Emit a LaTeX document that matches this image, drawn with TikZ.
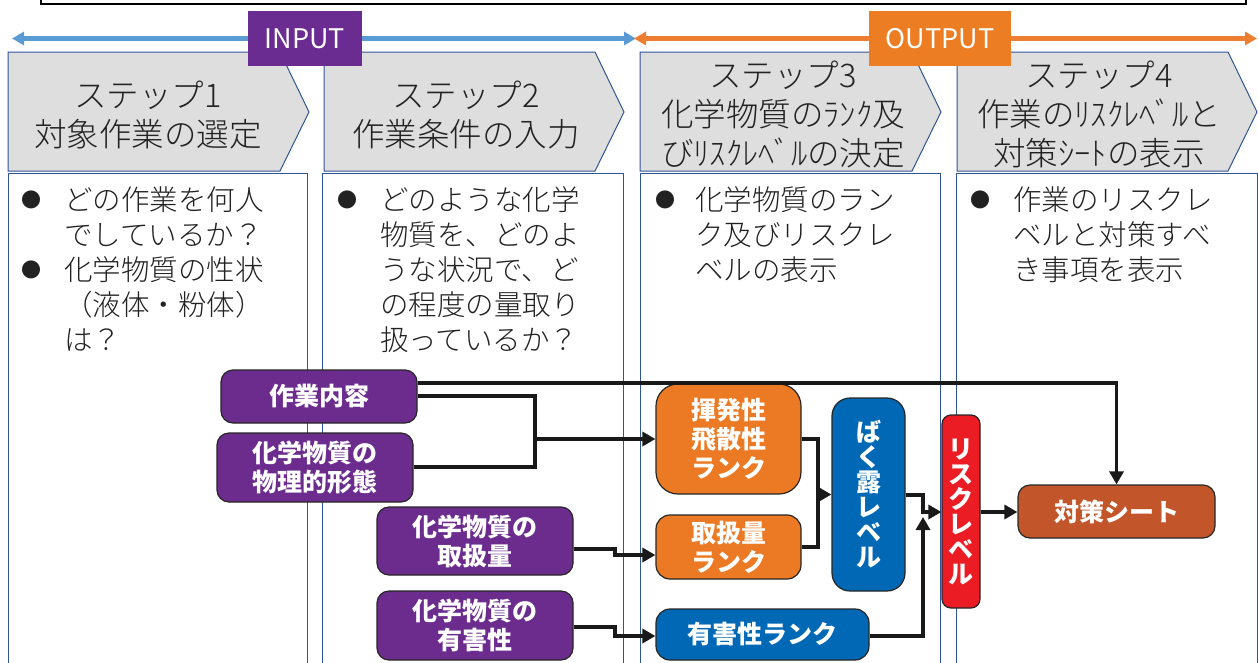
\documentclass[tikz,border=0pt]{standalone}
\usepackage{fontspec}
\setmainfont{Noto Sans CJK JP}
\IfFontExistsTF{Noto Sans CJK JP Light}{\newfontfamily\lightjp{Noto Sans CJK JP Light}}{\newfontfamily\lightjp{Noto Sans CJK JP}}
\usetikzlibrary{arrows.meta}
\definecolor{cpurple}{HTML}{6B2C8E}
\definecolor{corange}{HTML}{EC7A24}
\definecolor{cblue}{HTML}{0068B4}
\definecolor{cred}{HTML}{EC1C24}
\definecolor{cbrown}{HTML}{C2552A}
\definecolor{cinput}{HTML}{6B2C91}
\definecolor{coutput}{HTML}{ED7D22}
\definecolor{carrowblue}{HTML}{5B9BD5}
\definecolor{carroworange}{HTML}{ED7D31}
\definecolor{cgray}{HTML}{DEDEDE}
\definecolor{cborder}{HTML}{2F5597}
\definecolor{ctext}{HTML}{222222}
\tikzset{
  flownode/.style={draw=black!85, line width=1.2pt, rounded corners=12pt, text=white,
    font=\bfseries\fontsize{25}{29}\selectfont, align=center, inner sep=0pt},
  purplenode/.style={flownode, fill=cpurple, minimum width=196pt},
  orangenode/.style={flownode, fill=corange, minimum width=145pt},
  bluenode/.style={flownode, fill=cblue},
  rednode/.style={flownode, fill=cred, rounded corners=9pt},
  brownnode/.style={flownode, fill=cbrown},
  flow/.style={line width=3.5pt, draw=black!90},
  flowarrow/.style={flow, -{Triangle[length=13pt,width=14pt]}},
  stepshape/.style={fill=cgray, draw=cborder, line width=1pt},
  stepbox/.style={draw=cborder, line width=1pt, fill=white},
  steptitle/.style={font=\lightjp\fontsize{32.5}{39}\selectfont, align=center, text=ctext, inner sep=0pt},
  bodytext/.style={font=\lightjp\fontsize{28.5}{35}\selectfont, align=left, anchor=north west, inner sep=0pt, text=ctext},
  bulletmark/.style={font=\fontsize{20}{20}\selectfont, text=ctext, inner sep=0pt},
  tagbox/.style={text=white, font=\fontsize{27}{27}\selectfont, inner sep=0pt, minimum height=55pt},
  twotips/.style={{Triangle[length=12pt,width=13pt]}-{Triangle[length=12pt,width=13pt]}},
}
\begin{document}
\begin{tikzpicture}[x=1pt,y=-1pt]
\useasboundingbox (0,0) rectangle (1258,662);
\clip (0,0) rectangle (1258,662);

% top frame
\draw[line width=1.3pt, fill=white] (41,-10) rectangle (1246,4);

% top arrows
\coordinate (ia) at (12,38.5);
\coordinate (ib) at (636,38.5);
\coordinate (oa) at (634,38.5);
\coordinate (ob) at (1257,38.5);
\draw[twotips, draw=carrowblue, fill=carrowblue, line width=4.5pt] (ia) -- (ib);
\draw[twotips, draw=carroworange, fill=carroworange, line width=4.5pt] (oa) -- (ob);

% content boxes
\draw[stepbox] (8,173) rectangle (307,680);
\draw[stepbox] (322,173) rectangle (623,680);
\draw[stepbox] (640,173) rectangle (940,680);
\draw[stepbox] (956,173) rectangle (1257,680);

% chevrons
\draw[stepshape] (8,52) -- (280,52) -- (309,112) -- (280,171) -- (8,171) -- cycle;
\draw[stepshape] (324,52) -- (595,52) -- (624,112) -- (595,171) -- (324,171) -- cycle;
\draw[stepshape] (640,52) -- (912,52) -- (941,112) -- (912,171) -- (640,171) -- cycle;
\draw[stepshape] (957,52) -- (1228,52) -- (1257,112) -- (1228,171) -- (957,171) -- cycle;

\node[steptitle] (s1) at (148,115) {ステップ1\\対象作業の選定};
\node[steptitle] (s2) at (466,115) {ステップ2\\作業条件の入力};
\node[steptitle] (s3) at (783,114) {ステップ3\\化学物質のﾗﾝｸ及\\びﾘｽｸﾚﾍﾞﾙの決定};
\node[steptitle] (s4) at (1099,114) {ステップ4\\作業のﾘｽｸﾚﾍﾞﾙと\\対策ｼｰﾄの表示};

% tags
\node[tagbox, fill=cinput, minimum width=114pt] (input) at (305,38.5) {INPUT};
\node[tagbox, fill=coutput, minimum width=142pt] (output) at (940,38.5) {OUTPUT};

% bullets
\node[bulletmark] (b1a) at (31,200) {●};
\node[bulletmark] (b1b) at (31,270) {●};
\node[bodytext] (t1) at (64,186) {どの作業を何人\\でしているか？\\化学物質の性状\\（液体・粉体）\\は？};
\node[bulletmark] (b2a) at (347,200) {●};
\node[bodytext] (t2) at (380,186) {どのような化学\\物質を、どのよ\\うな状況で、ど\\の程度の量取り\\扱っているか？};
\node[bulletmark] (b3a) at (665,200) {●};
\node[bodytext] (t3) at (695,186) {化学物質のラン\\ク及びリスクレ\\ベルの表示};
\node[bulletmark] (b4a) at (980,200) {●};
\node[bodytext] (t4) at (1013,186) {作業のリスクレ\\ベルと対策すべ\\き事項を表示};

% flow nodes
\node[purplenode, minimum height=53pt] (sagyo) at (319,396.5) {作業内容};
\node[purplenode, minimum height=69pt] (keitai) at (315,467.5) {化学物質の\\物理的形態};
\node[purplenode, minimum height=68pt] (ryo) at (475,541) {化学物質の\\取扱量};
\node[purplenode, minimum height=69pt] (gai) at (475,625.5) {化学物質の\\有害性};
\node[orangenode, minimum height=110pt, rounded corners=22pt] (kihatsu) at (728.5,439) {揮発性\\飛散性\\ランク};
\node[orangenode, minimum height=64pt, rounded corners=14pt] (ryoR) at (728.5,547) {取扱量\\ランク};
\node[bluenode, minimum width=213pt, minimum height=51pt, rounded corners=14pt] (gaiR) at (762.5,634.5) {有害性ランク};
\node[bluenode, minimum width=73pt, minimum height=193pt, rounded corners=18pt, font=\bfseries\fontsize{25}{25}\selectfont] (bakuro) at (868.5,494.5) {ば\\く\\露\\レ\\ベ\\ル};
\node[rednode, minimum width=38pt, minimum height=193pt, font=\bfseries\fontsize{25}{25}\selectfont] (risk) at (961,511.5) {リ\\ス\\ク\\レ\\ベ\\ル};
\node[brownnode, minimum width=197pt, minimum height=53pt] (taisaku) at (1116.5,511.5) {対策シート};

% connectors
\coordinate (j1) at (535,439);
\coordinate (j5) at (818,494.5);
\coordinate (j7) at (923,517);
\draw[flowarrow] (sagyo.east |- 0,383) -| (taisaku.north);
\draw[flow] (sagyo.east |- 0,396) -| (j1);
\draw[flow] (keitai.east |- 0,467) -| (j1);
\draw[flowarrow] (j1) -- (kihatsu.west |- j1);
\draw[flowarrow] (ryo.east |- 0,549) -- (615,549) |- (ryoR.west |- 0,555);
\draw[flowarrow] (gai.east |- 0,627) -- (615,627) |- (gaiR.west |- 0,636);
\draw[flow] (kihatsu.east |- 0,439) -| (j5);
\draw[flow] (ryoR.east |- 0,547) -| (j5);
\draw[flowarrow] (j5) -- (bakuro.west |- j5);
\draw[flowarrow] (bakuro.east |- 0,495) -- (923,495) |- (risk.west |- 0,512);
\draw[flowarrow] (gaiR.east |- 0,636) -| (j7);
\draw[flowarrow] (risk.east |- 0,512) -- (taisaku.west |- 0,512);
\end{tikzpicture}
\end{document}
